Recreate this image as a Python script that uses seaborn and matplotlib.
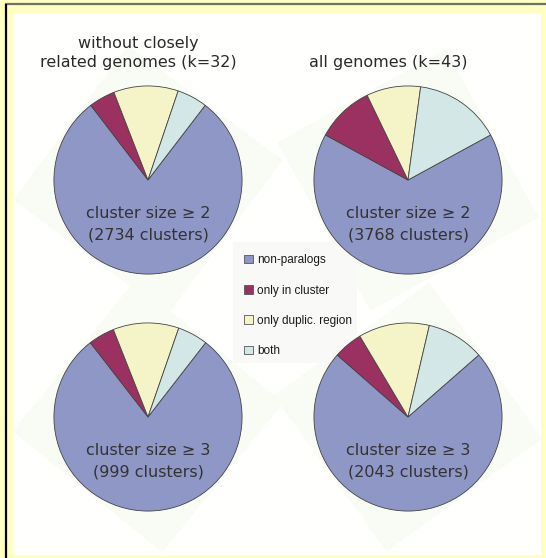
import numpy as np
import matplotlib
matplotlib.use("Agg")
import matplotlib.pyplot as plt
from matplotlib.patches import Rectangle, Polygon, Patch
import seaborn as sns

# ---- data -------------------------------------------------------------
categories = ["non-paralogs", "only in cluster", "only duplic. region", "both"]

# shares (%) per pie, in category order
share_k32_ge2 = [79.2, 4.5, 11.1, 5.2]
share_k43_ge2 = [65.9, 9.9, 9.3, 14.9]
share_k32_ge3 = [79.0, 4.5, 11.3, 5.2]
share_k43_ge3 = [72.9, 5.0, 12.2, 9.9]

column_titles = ["without closely\nrelated genomes (k=32)", "all genomes (k=43)"]
size_labels = ["cluster size \u2265 2", "cluster size \u2265 3"]
cluster_counts = [[2734, 3768], [999, 2043]]

colors = ["#8f97c7", "#9a3161", "#f4f4c8", "#d3e8e6"]

# ---- style ------------------------------------------------------------
sns.set_style("white")
palette = sns.color_palette(colors)

W, H = 546, 558
fig = plt.figure(figsize=(W / 100, H / 100), dpi=100, facecolor="#ffffc0")

# background layer in pixel coordinates
bg = fig.add_axes([0, 0, 1, 1])
bg.set_xlim(0, W)
bg.set_ylim(H, 0)
bg.axis("off")
bg.add_patch(Rectangle((13, 13), 528, 542, facecolor="#fffffd", edgecolor="none"))
bg.plot([5, W], [4, 4], color="#707070", lw=1.6, solid_capstyle="butt")
bg.plot([5.5, 5.5], [4, H], color="black", lw=1.6, solid_capstyle="butt")

# pie layout (pixel centres and radii)
centres = [[(148, 180), (408, 180)], [(148, 417), (408, 417)]]
radius = 95
diamond_rot = [[8.4, -16.0], [6.0, -9.0]]
shares = [[share_k32_ge2, share_k43_ge2], [share_k32_ge3, share_k43_ge3]]

# faint rotated squares behind each pie
for r in range(2):
    for c in range(2):
        cx, cy = centres[r][c]
        ang = np.deg2rad(diamond_rot[r][c] + np.arange(4) * 90)
        pts = np.column_stack([cx + 136 * np.cos(ang), cy - 136 * np.sin(ang)])
        bg.add_patch(Polygon(pts, closed=True, facecolor="#f9fbf5", edgecolor="none"))

# legend panel
bg.add_patch(Rectangle((233, 242), 124, 121, facecolor="#f9faf7", edgecolor="none"))

for r in range(2):
    for c in range(2):
        cx, cy = centres[r][c]
        ax = fig.add_axes([(cx - radius) / W, 1 - (cy + radius) / H,
                           2 * radius / W, 2 * radius / H])
        vals = shares[r][c]
        # non-paralogs wedge centred at the bottom, slices run clockwise
        start = -90 + 360 * vals[0] / sum(vals) / 2
        ax.pie(vals, colors=palette, startangle=start, counterclock=False,
               radius=1, wedgeprops=dict(edgecolor="#444444", linewidth=0.6))
        ax.set_xlim(-1.01, 1.01)
        ax.set_ylim(-1.01, 1.01)
        ax.set_aspect("equal")
        ax.axis("off")
        ax.text(0, -0.36, size_labels[r], ha="center", va="center",
                fontsize=11.5, color="#333333")
        ax.text(0, -0.59, f"({cluster_counts[r][c]} clusters)", ha="center",
                va="center", fontsize=11.5, color="#333333")

# column titles
bg.text(138, 53, column_titles[0], ha="center", va="center", fontsize=11.5,
        color="#2a2a2a", linespacing=1.35)
bg.text(388, 63, column_titles[1], ha="center", va="center", fontsize=11.5,
        color="#2a2a2a")

handles = [Patch(facecolor=palette[i], edgecolor="#555555", linewidth=0.6,
                 label=categories[i]) for i in range(4)]
fig.legend(handles=handles, loc="upper left",
           bbox_to_anchor=(236 / W, 1 - 246 / H), frameon=False,
           prop={"family": "Liberation Sans", "size": 8.5},
           handlelength=0.75, handleheight=0.75, handletextpad=0.35,
           labelspacing=1.55, borderpad=0.2, labelcolor="#1a1a1a")

fig.savefig("out.png", dpi=100, facecolor=fig.get_facecolor())
